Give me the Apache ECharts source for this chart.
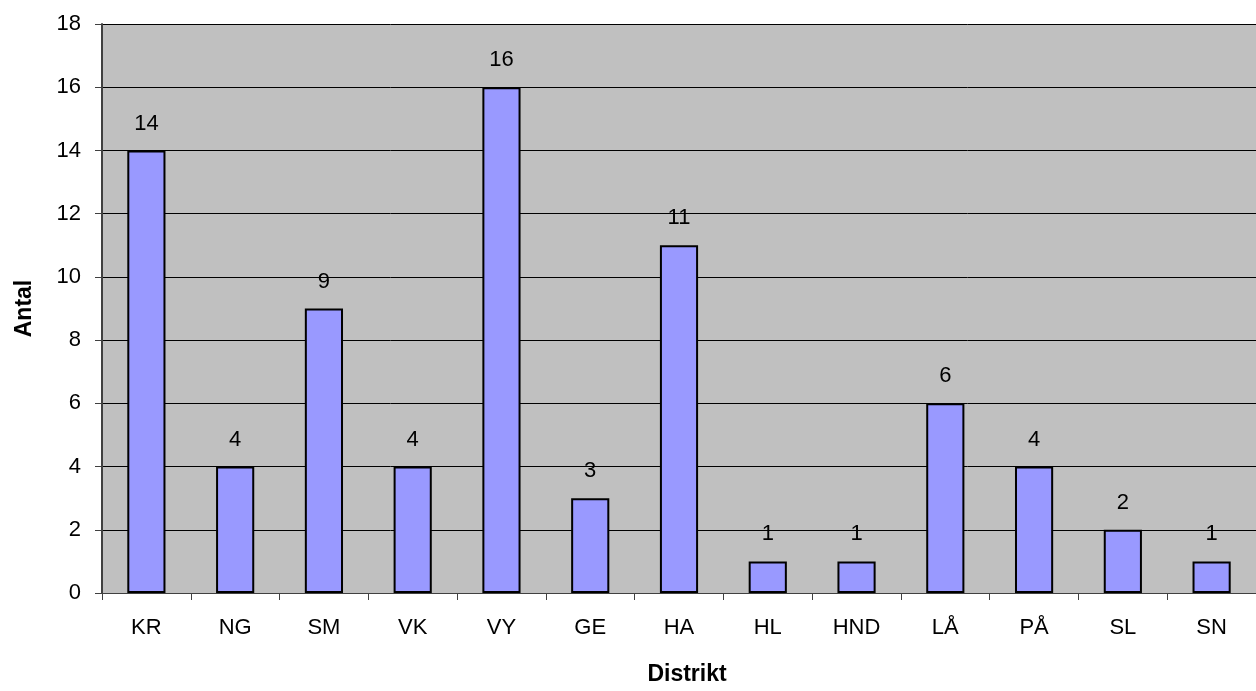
<!DOCTYPE html>
<html><head><meta charset="utf-8">
<script src="https://cdn.jsdelivr.net/npm/echarts@6/dist/echarts.min.js"></script>
<style>html,body{margin:0;padding:0;background:#fff}#c{width:1256px;height:691px}</style>
</head><body><div id="c"></div>
<script>
const categories = ['KR','NG','SM','VK','VY','GE','HA','HL','HND','LÅ','PÅ','SL','SN'];
const values = [14,4,9,4,16,3,11,1,1,6,4,2,1];
const yTicks = [0,2,4,6,8,10,12,14,16,18];
const chart = echarts.init(document.getElementById('c'));
const font = "'Liberation Sans', Arial, sans-serif";
chart.setOption({
  animation:false,
  backgroundColor:'#ffffff',
  grid:{left:102,top:24,right:0,bottom:95,backgroundColor:'#c0c0c0',show:true,borderWidth:0},
  xAxis:{type:'category',data:categories,
    name:'Distrikt',nameLocation:'middle',nameGap:70,
    nameTextStyle:{fontFamily:font,fontSize:23,fontWeight:'bold',color:'#000',padding:[0,0,0,16]},
    axisLine:{lineStyle:{color:'#404040',width:1}},
    axisTick:{show:true,length:7,lineStyle:{color:'#404040'}},
    axisLabel:{fontFamily:font,fontSize:22,color:'#000',margin:24}},
  yAxis:{type:'value',min:yTicks[0],max:yTicks[yTicks.length-1],interval:2,
    name:'Antal',nameLocation:'middle',nameGap:66,
    nameTextStyle:{fontFamily:font,fontSize:23,fontWeight:'bold',color:'#000'},
    axisLine:{show:true,lineStyle:{color:'#404040',width:2}},
    axisTick:{show:true,length:7,lineStyle:{color:'#404040'}},
    axisLabel:{fontFamily:font,fontSize:22,color:'#000',margin:21},
    splitLine:{lineStyle:{color:'#000',width:1}}},
  series:[{type:'bar',data:values,barWidth:'43%',
    itemStyle:{color:'#9999ff',borderColor:'#000',borderWidth:2},
    label:{show:true,position:'top',distance:16,fontFamily:font,fontSize:22,color:'#000'}}]
});
</script></body></html>
